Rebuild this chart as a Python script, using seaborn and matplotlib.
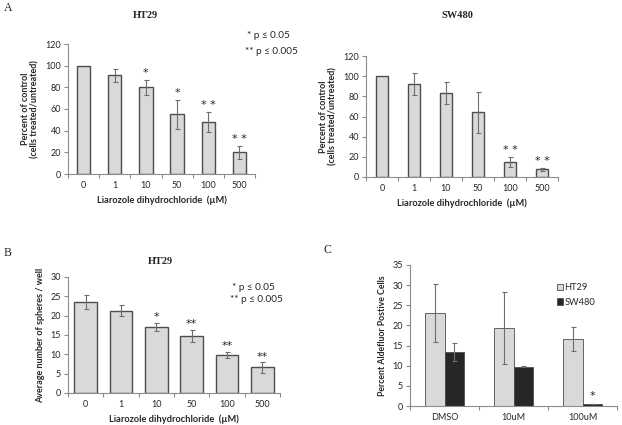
import matplotlib
matplotlib.use("Agg")
import matplotlib.pyplot as plt
import seaborn as sns
import pandas as pd
import numpy as np
from matplotlib.ticker import FixedLocator, NullFormatter

# ---------------- data ----------------
conc = ["0", "1", "10", "50", "100", "500"]

a_ht29 = [100, 91, 80, 55, 48, 20]
a_ht29_err = [0, 6, 7, 13, 9.5, 6]
a_ht29_sig = ["", "", "*", "*", "* *", "* *"]

a_sw480 = [100, 92, 83, 64, 15, 7.5]
a_sw480_err = [0, 11, 11, 20, 5, 1.5]
a_sw480_sig = ["", "", "", "", "* *", "* *"]

b_ht29 = [23.5, 21.3, 17.1, 14.8, 9.8, 6.6]
b_ht29_err = [1.9, 1.5, 1.1, 1.6, 0.85, 1.3]
b_ht29_sig = ["", "", "*", "**", "**", "**"]

c_treat = ["DMSO", "10uM", "100uM"]
c_lines = ["HT29", "SW480"]
c_ht29 = [23.2, 19.4, 16.6]
c_ht29_err = [7.2, 9.0, 3.0]
c_sw480 = [13.4, 9.8, 0.5]
c_sw480_err = [2.3, 0.1, 0.1]
c_sw480_sig = ["", "", "*"]

# ---------------- style ----------------
sns.set_theme(style="white")
plt.rcParams["font.family"] = ["Lato", "DejaVu Sans"]
SANS = ["Lato", "DejaVu Sans"]
STAR = ["DejaVu Sans"]
SERIF = ["Liberation Serif", "DejaVu Serif"]
AXC = "#8c8c8c"
TXT = "#262626"
LIGHT = "#d9d9d9"
EDGE = "#4d4d4d"
DARK = "#262626"
ERRC = "#6e6e6e"

W, H = 622, 425
fig = plt.figure(figsize=(W / 100, H / 100), dpi=100)


def add_ax(left, right, top, bottom):
    return fig.add_axes([left / W, 1 - bottom / H, (right - left) / W, (bottom - top) / H])


def ftext(x, y, s, **kw):
    fig.text(x / W, 1 - y / H, s, **kw)


def style_axis(ax, n, ymax, ystep):
    ax.set_ylim(0, ymax)
    ax.set_xlim(-0.5, n - 0.5)
    ax.set_yticks(np.arange(0, ymax + 0.01, ystep))
    for s in ["top", "right"]:
        ax.spines[s].set_visible(False)
    for s in ["left", "bottom"]:
        ax.spines[s].set_color(AXC)
        ax.spines[s].set_linewidth(0.8)
    ax.tick_params(axis="y", which="major", length=3, width=0.8, color=AXC,
                   labelsize=6.5, labelcolor=TXT, pad=2, left=True)
    ax.tick_params(axis="x", which="major", length=0, labelsize=6.5,
                   labelcolor=TXT, pad=5)
    ax.xaxis.set_minor_locator(FixedLocator(np.arange(-0.5, n, 1.0)))
    ax.xaxis.set_minor_formatter(NullFormatter())
    ax.tick_params(axis="x", which="minor", length=3, width=0.8, color=AXC, bottom=True)
    ax.grid(False)


def errs_and_stars(ax, bars, vals, errs, sigs, star_off):
    for p, v, e, s in zip(bars, vals, errs, sigs):
        xc = p.get_x() + p.get_width() / 2
        if e > 0:
            ax.errorbar(xc, v, yerr=e, fmt="none", ecolor=ERRC, elinewidth=0.8,
                        capsize=1.8, capthick=0.8, zorder=5)
        if s:
            ax.text(xc, v + e + star_off, s, ha="center", va="bottom",
                    fontsize=8, color=TXT, fontfamily=STAR)


def simple_panel(ax, vals, errs, sigs, width, ymax, ystep, ylabel, star_off):
    df = pd.DataFrame({"conc": conc, "val": vals})
    sns.barplot(data=df, x="conc", y="val", ax=ax, color=LIGHT, width=width,
                edgecolor=EDGE, linewidth=1.0, saturation=1, errorbar=None)
    bars = list(ax.patches)
    for p in bars:
        p.set_facecolor(LIGHT)
    style_axis(ax, len(conc), ymax, ystep)
    errs_and_stars(ax, bars, vals, errs, sigs, star_off)
    ax.set_xlabel("Liarozole dihydrochloride  (\u00b5M)", fontsize=6.7,
                  fontweight="bold", color=TXT, labelpad=4)
    ax.set_ylabel(ylabel, fontsize=6.5, fontweight="bold", color=TXT,
                  labelpad=4, linespacing=1.1)


def legend_text(x, y1, y2, xr2):
    ftext(x, y1, "* p \u2264 0.05", fontsize=7.2, ha="right", va="center",
          color=TXT, fontfamily=SANS)
    ftext(xr2, y2, "** p \u2264 0.005", fontsize=7.2, ha="right", va="center",
          color=TXT, fontfamily=SANS)


# ---------------- Panel A HT29 ----------------
ax1 = add_ax(68, 255, 44, 174)
simple_panel(ax1, a_ht29, a_ht29_err, a_ht29_sig, 0.43, 120, 20,
             "Percent of control\n(cells treated/untreated)", 2)
ftext(145, 16, "HT29", fontsize=7.5, fontweight="bold", fontfamily=SERIF,
      ha="center", va="center", color=TXT)
legend_text(290, 35, 52, 298)

# ---------------- Panel A SW480 ----------------
ax2 = add_ax(366, 558, 56, 177)
simple_panel(ax2, a_sw480, a_sw480_err, a_sw480_sig, 0.40, 120, 20,
             "Percent of control\n(cells treated/untreated)", 2)
ftext(457, 16, "SW480", fontsize=7.5, fontweight="bold", fontfamily=SERIF,
      ha="center", va="center", color=TXT)

# ---------------- Panel B ----------------
ax3 = add_ax(68, 280, 277, 393)
simple_panel(ax3, b_ht29, b_ht29_err, b_ht29_sig, 0.65, 30, 5,
             "Average number of spheres / well", 0.2)
ftext(160, 261, "HT29", fontsize=7.5, fontweight="bold", fontfamily=SERIF,
      ha="center", va="center", color=TXT)
legend_text(275, 287, 300, 283)

# ---------------- Panel C ----------------
ax4 = add_ax(410, 617, 265, 406)
dfc = pd.DataFrame({
    "treat": c_treat * 2,
    "line": [c_lines[0]] * 3 + [c_lines[1]] * 3,
    "val": c_ht29 + c_sw480,
})
sns.barplot(data=dfc, x="treat", y="val", hue="line", ax=ax4,
            palette=[LIGHT, DARK], width=0.57, gap=0, saturation=1,
            edgecolor=EDGE, linewidth=0.6, errorbar=None)
bars = [p for p in ax4.patches if p.get_height() > 0 or p.get_width() > 0][:6]
bars_ht, bars_sw = bars[:3], bars[3:6]
style_axis(ax4, 3, 35, 5)
errs_and_stars(ax4, bars_ht, c_ht29, c_ht29_err, ["", "", ""], 1)
errs_and_stars(ax4, bars_sw, c_sw480, c_sw480_err, c_sw480_sig, 0.6)
ax4.set_xlabel("")
ax4.set_ylabel("Percent Aldefluor Postive Cells", fontsize=6.3,
               fontweight="bold", color=TXT, labelpad=4)
leg = ax4.legend(loc="upper left", bbox_to_anchor=(0.67, 0.93), frameon=False,
                 fontsize=6.7, handlelength=0.6, handleheight=0.7,
                 handletextpad=0.2, labelspacing=0.6)
for t in leg.get_texts():
    t.set_color(TXT)

# ---------------- panel letters ----------------
ftext(4, 8, "A", fontsize=8.5, fontfamily=SERIF, ha="left", va="center", color=TXT)
ftext(4, 253, "B", fontsize=8.5, fontfamily=SERIF, ha="left", va="center", color=TXT)
ftext(323, 250, "C", fontsize=8.5, fontfamily=SERIF, ha="left", va="center", color=TXT)

fig.savefig("out.png", dpi=100)
